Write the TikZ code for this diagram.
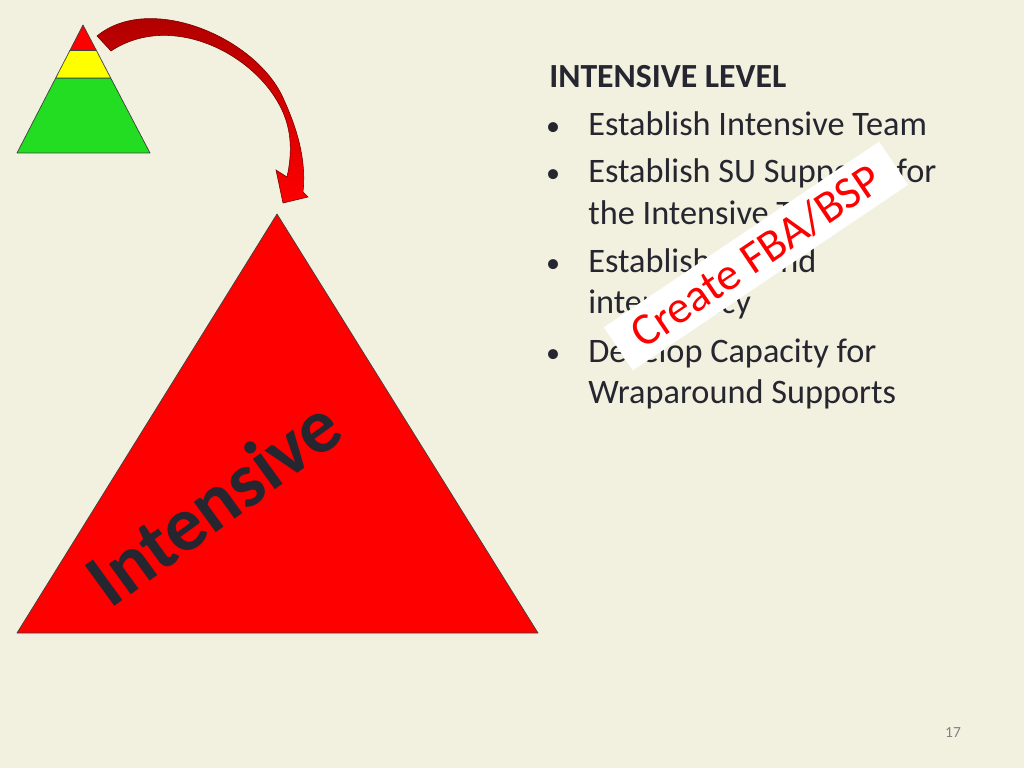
\documentclass[tikz,border=0pt]{standalone}
\usepackage{fontspec}
\setmainfont{Carlito}
\usepackage{xcolor}
\usetikzlibrary{positioning, calc}

\definecolor{slidebg}{RGB}{242,240,222}
\definecolor{inkgray}{RGB}{38,38,48}
\definecolor{tiergreen}{RGB}{34,221,34}
\definecolor{tieryellow}{RGB}{255,255,0}
\definecolor{tierred}{RGB}{255,0,0}

\begin{document}
\begin{tikzpicture}[
  x=0.025cm, y=-0.025cm,
  every node/.style={inner sep=0pt, text=inkgray},
  body/.style={font=\fontsize{24.4}{29}\selectfont, anchor=base west},
  dot/.style={font=\fontsize{20}{29}\selectfont, anchor=base},
  tier/.style={draw=black!75, line width=0.5pt, line join=round}
]
% Slide background
\useasboundingbox (0,0) rectangle (1024,768);
\fill[slidebg] (0,0) rectangle (1024,768);

% Small pyramid: the three tiers
\filldraw[tier, fill=tiergreen] (17,153) -- (150,153) -- (110.7,78) -- (55.7,78) -- cycle;
\filldraw[tier, fill=tieryellow] (55.7,78) -- (110.7,78) -- (96.4,50.5) -- (69.9,50.5) -- cycle;
\filldraw[tier, fill=tierred] (69.9,50.5) -- (96.4,50.5) -- (83,25) -- cycle;

% Curved block arrow from the top tier down to the big triangle
\draw[draw=red!45!black, line width=0.4pt, top color=red!65!black, bottom color=tierred]
  (97,36) .. controls (150,-8) and (258,38) .. (284,100)
  .. controls (300,135) and (306,165) .. (303,192)
  -- (308,197) -- (283,203) -- (276,170) -- (287,177)
  .. controls (293,150) and (291,127) .. (280,106)
  .. controls (252,52) and (170,12) .. (111,51) -- cycle;

% Big triangle: intensive tier
\filldraw[tier, fill=tierred] (17,633) -- (538,633) -- (277,214) -- cycle;
\node[font=\bfseries\fontsize{55}{66}\selectfont, rotate=36] (tiername) at (213,502) {Intensive};

% Right-hand text
\node[body, font=\bfseries\fontsize{24}{29}\selectfont] (head) at (549,88) {INTENSIVE LEVEL};
\node[dot] (b1) at (553,136) {\textbullet};
\node[body] (l1) at (588,136) {Establish Intensive Team};
\node[dot] (b2) at (553,183) {\textbullet};
\node[body] (l2) at (588,183) {Establish SU Supports for};
\node[body] (l2b) at (588,224) {the Intensive Team};
\node[dot] (b3) at (553,272) {\textbullet};
\node[body] (l3) at (588,272) {Establish SU and};
\node[body] (l3b) at (588,313) {interagency};
\node[dot] (b4) at (553,362) {\textbullet};
\node[body] (l4) at (588,362) {Develop Capacity for};
\node[body] (l4b) at (588,403) {Wraparound Supports};

% Sticker laid over the list
\node[fill=white, rotate=34, minimum width=8.3cm, minimum height=1.3cm,
  text=tierred, font=\fontsize{32.5}{38}\selectfont] (sticker) at (756,256) {Create FBA/BSP};

% Page number
\node[text=black!50, font=\fontsize{11}{13}\selectfont] (pageno) at (953,733) {17};
\end{tikzpicture}
\end{document}
